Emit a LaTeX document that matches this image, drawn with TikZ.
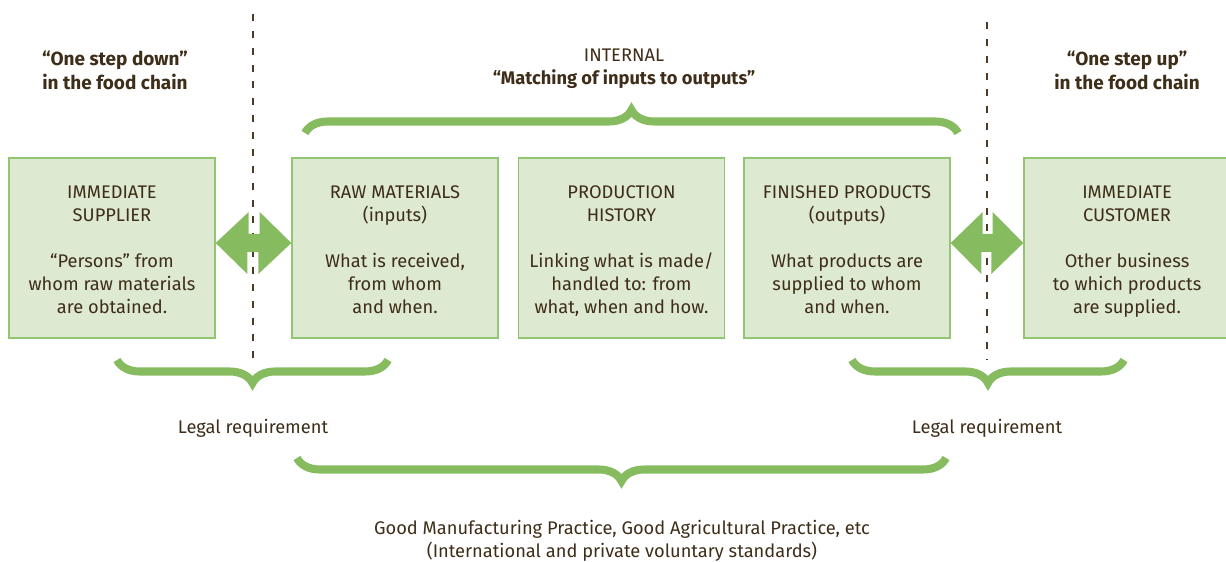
\documentclass[tikz,border=0pt]{standalone}
\usepackage{fontspec}
\setmainfont{Fira Sans}
\usetikzlibrary{decorations.pathreplacing}

\definecolor{boxfill}{HTML}{DDE9D0}
\definecolor{boxline}{HTML}{92C672}
\definecolor{leafgreen}{HTML}{86BC5F}
\definecolor{soilbrown}{HTML}{3E2D18}
\definecolor{cutbrown}{HTML}{4B3A26}

\begin{document}
\begin{tikzpicture}[x = 0.02cm, y = 0.02cm, font = \fontsize{10.4}{13.1}\selectfont, text = soilbrown]
	\tikzstyle{stageStyle} = [draw = boxline, line width = 0.8pt, fill = boxfill, minimum width = 4.12cm, minimum height = 3.6cm, align = center, inner sep = 0pt]
	\tikzstyle{headStyle} = [align = center, font = \fontsize{10.8}{13.6}\selectfont\bfseries]
	\tikzstyle{noteStyle} = [align = center]
	\tikzstyle{braceStyle} = [draw = leafgreen, line width = 4.6pt, decorate, decoration = {brace, amplitude = 0.46cm}]
	\tikzstyle{cutStyle} = [draw = cutbrown, line width = 1.5pt, dash pattern = on 4pt off 5.6pt]
	\tikzstyle{linkStyle} = [fill = leafgreen]
	\useasboundingbox (0, 0) rectangle (1226, 561);
	\node[stageStyle] (supplier) at (112, 313) {\rule{0pt}{13.2pt}IMMEDIATE\\SUPPLIER\\[13.1pt]“Persons” from\\whom raw materials\\are obtained.\strut};
	\node[stageStyle] (raw) at (395, 313) {\rule{0pt}{13.2pt}RAW MATERIALS\\(inputs)\\[13.1pt]What is received,\\from whom\\and when.\strut};
	\node[stageStyle] (history) at (621.5, 313) {\rule{0pt}{13.2pt}PRODUCTION\\HISTORY\\[13.1pt]Linking what is made/\\handled to: from\\what, when and how.\strut};
	\node[stageStyle] (finished) at (847, 313) {\rule{0pt}{13.2pt}FINISHED PRODUCTS\\(outputs)\\[13.1pt]What products are\\supplied to whom\\and when.\strut};
	\node[stageStyle] (customer) at (1127, 313) {\rule{0pt}{13.2pt}IMMEDIATE\\CUSTOMER\\[13.1pt]Other business\\to which products\\are supplied.\strut};
	\node[headStyle] (down) at (115, 491) {“One step down”\\in the food chain};
	\node[noteStyle] (internal) at (624, 492) {INTERNAL\\\textbf{“Matching of inputs to outputs”}};
	\node[headStyle] (up) at (1127, 491) {“One step up”\\in the food chain};
	\node (legalL) at (253, 133) {Legal requirement};
	\node (legalR) at (987, 133) {Legal requirement};
	\node[noteStyle] (gmp) at (622, 20) {Good Manufacturing Practice, Good Agricultural Practice, etc\\(International and private voluntary standards)};
	\coordinate (cutLtop) at (253, 547);
	\coordinate (cutLbot) at (253, 201);
	\coordinate (cutRtop) at (987, 539);
	\coordinate (cutRbot) at (987, 201);
	\draw[cutStyle] (cutLtop) -- (cutLbot);
	\draw[cutStyle] (cutRtop) -- (cutRbot);
	\fill[linkStyle] ([yshift = 0.1cm]supplier.east) -- ++(33, 31) -- ++(0, -22) -- ++(11, 0) -- ++(0, 22) -- ([yshift = 0.1cm]raw.west) -- ++(-33, -31) -- ++(0, 22) -- ++(-11, 0) -- ++(0, -22) -- cycle;
	\fill[linkStyle] ([yshift = 0.1cm]finished.east) -- ++(32, 31) -- ++(0, -22) -- ++(10, 0) -- ++(0, 22) -- ([yshift = 0.1cm]customer.west) -- ++(-32, -31) -- ++(0, 22) -- ++(-10, 0) -- ++(0, -22) -- cycle;
	\coordinate (inA) at (305, 428);
	\coordinate (inB) at (958, 428);
	\coordinate (legalLA) at (388, 201);
	\coordinate (legalLB) at (117, 201);
	\coordinate (legalRA) at (1124, 201);
	\coordinate (legalRB) at (852, 201);
	\coordinate (gmpA) at (946, 103);
	\coordinate (gmpB) at (297, 103);
	\draw[braceStyle] (inA) -- (inB);
	\draw[braceStyle] (legalLA) -- (legalLB);
	\draw[braceStyle] (legalRA) -- (legalRB);
	\draw[braceStyle] (gmpA) -- (gmpB);
\end{tikzpicture}
\end{document}
